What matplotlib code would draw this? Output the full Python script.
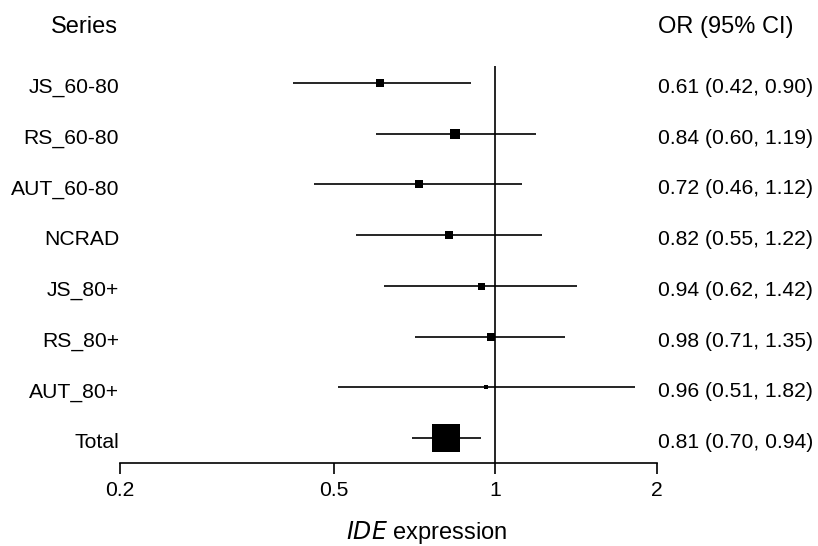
import matplotlib
matplotlib.use("Agg")
import matplotlib.pyplot as plt
import matplotlib.transforms as mtrans
import numpy as np

series = ["JS_60-80", "RS_60-80", "AUT_60-80", "NCRAD", "JS_80+", "RS_80+", "AUT_80+", "Total"]
or_vals = [0.61, 0.84, 0.72, 0.82, 0.94, 0.98, 0.96, 0.81]
ci_low = [0.42, 0.60, 0.46, 0.55, 0.62, 0.71, 0.51, 0.70]
ci_high = [0.90, 1.19, 1.12, 1.22, 1.42, 1.35, 1.82, 0.94]
box_px = [8, 10, 7.5, 7.5, 7, 8.5, 4, 28]
xticks = [0.2, 0.5, 1, 2]
xtick_labels = ["0.2", "0.5", "1", "2"]

plt.rcParams['font.family'] = ['Liberation Sans', 'DejaVu Sans']
FS = 15.2
FSH = 17.0

W, H = 818, 546
fig = plt.figure(figsize=(W/100, H/100), dpi=100)
x0, x1 = 120, 657
ytop, ybot = 66, 463
ax = fig.add_axes([x0/W, (H-ybot)/H, (x1-x0)/W, (ybot-ytop)/H])
ax.set_xscale('log')
ax.set_xlim(0.2, 2)
n = len(series)
row_px = 50.86
ax.set_ylim(n - 1 + (ybot - 438)/row_px, -(83 - ytop)/row_px)

for i in range(n):
    ax.plot([ci_low[i], ci_high[i]], [i, i], color='black', lw=1.2, solid_capstyle='butt', zorder=2)
    ax.plot([or_vals[i]], [i], marker='s', color='black', markersize=box_px[i]*0.72,
            markeredgewidth=0, linestyle='none', zorder=3)

ax.axvline(1, color='black', lw=1.2, zorder=1)

for s in ['top', 'right', 'left']:
    ax.spines[s].set_visible(False)
ax.spines['bottom'].set_linewidth(1.2)
ax.set_yticks([])
ax.set_xticks(xticks)
ax.set_xticklabels(xtick_labels, fontsize=FS)
ax.xaxis.set_minor_locator(matplotlib.ticker.NullLocator())
ax.tick_params(axis='x', direction='out', length=8, width=1.2, pad=5)

# labels, baseline offset ~10 px below row centre
off = mtrans.ScaledTranslation(0, -10/100, fig.dpi_scale_trans)
ytr = ax.get_yaxis_transform() + off
for i in range(n):
    ax.text(-1/537, i, series[i], transform=ytr, ha='right', va='baseline', fontsize=FS)
    ax.text((658 - x0)/(x1 - x0), i, f"{or_vals[i]:.2f} ({ci_low[i]:.2f}, {ci_high[i]:.2f})",
            transform=ytr, ha='left', va='baseline', fontsize=FS)

fig.text(118/W, 1 - 33/H, "Series", ha='right', va='baseline', fontsize=FSH)
fig.text(658/W, 1 - 33/H, "OR (95% CI)", ha='left', va='baseline', fontsize=FSH)

fig.text(427/W, 1 - 539/H, r"$\it{IDE}$ expression", ha='center', va='baseline', fontsize=FSH)

fig.savefig("out.png", dpi=100)
